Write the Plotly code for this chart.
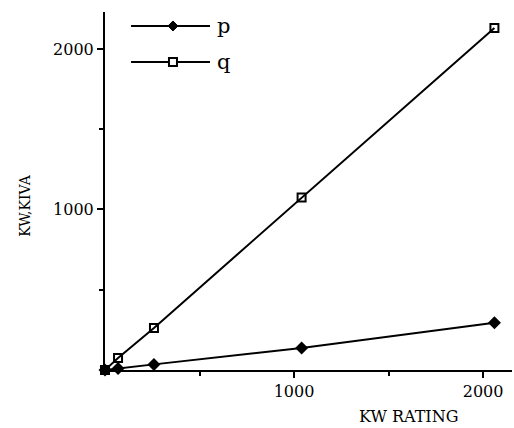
import plotly.graph_objects as go

kw_rating = [0, 69, 259, 1040, 2060]
p_values = [0, 10, 35, 137, 294]
q_values = [0, 75, 262, 1075, 2131]
x_ticks = [1000, 2000]
y_ticks = [1000, 2000]
minor_ticks = [500, 1500]

FONT = "DejaVu Serif, Liberation Serif, serif"

fig = go.Figure()
fig.add_trace(go.Scatter(x=kw_rating, y=p_values, mode="lines+markers", name="p",
                         line=dict(color="black", width=2),
                         marker=dict(symbol="diamond", size=10, color="black"),
                         cliponaxis=False, showlegend=False))
fig.add_trace(go.Scatter(x=kw_rating, y=q_values, mode="lines+markers", name="q",
                         line=dict(color="black", width=2),
                         marker=dict(symbol="square-open", size=8, color="black", line=dict(width=2)),
                         cliponaxis=False, showlegend=False))

# manual legend (decoration)
legend_items = [("p", 0.961, "diamond"), ("q", 0.860, "square")]
for name, yy, sym in legend_items:
    fig.add_shape(type="line", xref="paper", yref="paper", x0=0.064, x1=0.258, y0=yy, y1=yy,
                  line=dict(color="black", width=2))
    if sym == "diamond":
        fig.add_shape(type="path", xref="paper", yref="paper", xsizemode="pixel", ysizemode="pixel",
                      xanchor=0.167, yanchor=yy,
                      path="M -5 0 L 0 5 L 5 0 L 0 -5 Z", fillcolor="black", line=dict(color="black", width=1))
    else:
        fig.add_shape(type="rect", xref="paper", yref="paper", xsizemode="pixel", ysizemode="pixel",
                      xanchor=0.167, yanchor=yy, x0=-4, x1=4, y0=-4, y1=4,
                      fillcolor="white", line=dict(color="black", width=2))
    fig.add_annotation(x=0.27, y=yy, xref="paper", yref="paper", text=name, showarrow=False,
                       xanchor="left", yanchor="middle", font=dict(family=FONT, size=21, color="black"))

# axis titles
fig.add_annotation(x=0.745, y=-0.131, xref="paper", yref="paper", text="KW RATING", showarrow=False,
                   xanchor="center", yanchor="middle", font=dict(family=FONT, size=16, color="black"))
fig.add_annotation(x=-0.197, y=0.461, xref="paper", yref="paper", text="KW,KIVA", showarrow=False,
                   textangle=-90, xanchor="center", yanchor="middle",
                   font=dict(family=FONT, size=14, color="black"))

fig.update_layout(
    width=514, height=428,
    margin=dict(l=105, r=2, t=12, b=58),
    paper_bgcolor="white", plot_bgcolor="white",
    font=dict(family=FONT, size=16, color="black"),
    xaxis=dict(range=[0, 2153], tickvals=x_ticks, ticks="outside", ticklen=6, tickwidth=1.5,
               tickcolor="black",
               showline=True, linecolor="black", linewidth=2, showgrid=False, zeroline=False,
               minor=dict(tickvals=minor_ticks, ticks="outside", ticklen=4, tickcolor="black"),
               tickfont=dict(family=FONT, size=16, color="black")),
    yaxis=dict(range=[0, 2230], tickvals=y_ticks, ticks="outside", ticklen=6, tickwidth=1.5,
               tickcolor="black",
               showline=True, linecolor="black", linewidth=2, showgrid=False, zeroline=False,
               minor=dict(tickvals=minor_ticks, ticks="outside", ticklen=4, tickcolor="black"),
               tickfont=dict(family=FONT, size=16, color="black")),
)

fig.write_html("out.html")
